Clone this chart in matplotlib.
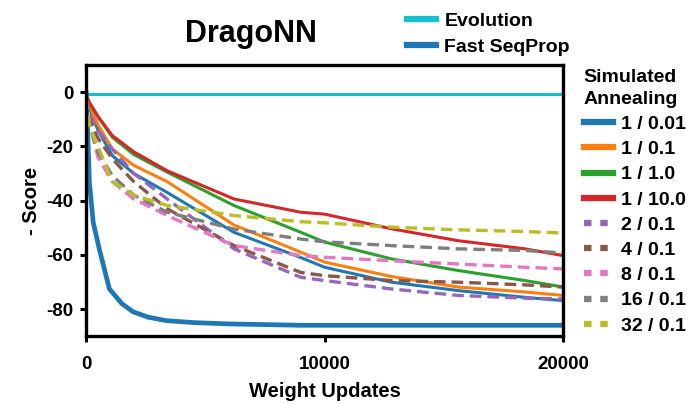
import matplotlib
matplotlib.use('Agg')
from matplotlib import pyplot as plt
from matplotlib.lines import Line2D

plt.rcParams['font.family'] = ['Liberation Sans', 'DejaVu Sans']
plt.rcParams['font.weight'] = 'bold'
plt.rcParams['axes.unicode_minus'] = False

# weight-update positions where curves were read
steps = [0, 150, 500, 1100, 2000, 3400, 6200, 9000, 10000, 12800, 15600, 18400, 20000]

# simulated annealing runs (label -> values at steps)
sa_labels = ['1 / 0.01', '1 / 0.1', '1 / 1.0', '1 / 10.0',
             '2 / 0.1', '4 / 0.1', '8 / 0.1', '16 / 0.1', '32 / 0.1']
sa_1_001 = [-1, -6, -14, -23.4, -30, -37, -51.7, -61, -64.6, -70.1, -73.2, -75.7, -76.9]
sa_1_01 = [-1, -5, -12, -21, -27, -33, -49, -59, -62.7, -68, -71.9, -73.7, -75]
sa_1_10 = [-1, -4, -9, -16.6, -23, -29.5, -41.8, -51.7, -55.3, -61.5, -65.8, -69.5, -71.9]
sa_1_100 = [-1, -4, -9, -16, -22, -29, -39.4, -44.3, -45, -50.4, -54.8, -57.8, -60.3]
sa_2_01 = [-2, -8, -14, -21, -30, -39.4, -57.8, -68.3, -69.5, -72.6, -75, -76, -76.3]
sa_4_01 = [-2, -10, -17, -24.6, -33, -43, -56.6, -66.5, -67.7, -69.5, -70.1, -71.1, -71.9]
sa_8_01 = [-2, -12, -24, -33, -39.4, -45.5, -56.6, -60.3, -60.9, -62.2, -63.4, -64.6, -65.2]
sa_16_01 = [-2, -12, -22, -30.8, -38, -44.3, -50.5, -54.2, -55.2, -56.6, -57.8, -58.4, -59.3]
sa_32_01 = [-2, -13, -20, -33, -38, -41.8, -45.5, -47.8, -48.2, -49.8, -50.8, -51.4, -52]
sa_values = [sa_1_001, sa_1_01, sa_1_10, sa_1_100, sa_2_01, sa_4_01, sa_8_01, sa_16_01, sa_32_01]
sa_colors = ['#1f77b4', '#ff7f0e', '#2ca02c', '#d62728', '#9467bd',
             '#8c564b', '#e377c2', '#7f7f7f', '#bcbd22']
sa_dashed = [False, False, False, False, True, True, True, True, True]

# evolution and fast seqprop
evo_steps = [0, 20000]
evo_values = [-0.8, -0.8]
fsp_steps = [0, 70, 140, 300, 560, 980, 1500, 1965, 2600, 3370, 4500, 6000, 9000, 12000, 15000, 20000]
fsp_values = [0, -15, -33, -48, -58, -72.6, -78, -81, -83, -84.3, -85, -85.5, -86, -86, -86, -86]

fig = plt.figure(figsize=(6.91, 4.04), dpi=100)
ax = fig.add_axes([0.1245, 0.168, 0.6905, 0.671])

ax.plot(evo_steps, evo_values, color='#17becf', lw=2.2)
ax.plot(fsp_steps, fsp_values, color='#1f77b4', lw=3.4)
for vals, col, dashed in zip(sa_values, sa_colors, sa_dashed):
    if dashed:
        ax.plot(steps, vals, color=col, lw=2.4, dashes=(3.5, 1.8))
    else:
        ax.plot(steps, vals, color=col, lw=2.2)

ax.set_xlim(0, 20000)
ax.set_ylim(-90, 10)
ax.set_xticks([0, 10000, 20000])
ax.set_yticks([0, -20, -40, -60, -80])
for s in ax.spines.values():
    s.set_linewidth(2.4)
ax.tick_params(axis='both', width=2.2, length=4, labelsize=13.5)
ax.tick_params(axis='x', pad=10)
ax.tick_params(axis='y', pad=5)
ax.set_xlabel('Weight Updates', fontsize=14.5, fontweight='bold', labelpad=7)
ax.set_ylabel('- Score', fontsize=14.5, fontweight='bold', labelpad=4)

fig.text(0.363, 0.915, 'DragoNN', fontsize=22, fontweight='bold', ha='center', va='center')

top_handles = [Line2D([], [], color='#17becf', lw=4.5),
               Line2D([], [], color='#1f77b4', lw=4.5)]
leg1 = fig.legend(top_handles, ['Evolution', 'Fast SeqProp'], loc='upper left',
                  bbox_to_anchor=(0.563, 1.012), frameon=False, fontsize=14,
                  handlelength=1.5, handletextpad=0.45, labelspacing=0.4)

sa_handles = []
for col, dashed in zip(sa_colors, sa_dashed):
    if dashed:
        sa_handles.append(Line2D([], [], color=col, lw=4.5, dashes=(1.2, 1.4)))
    else:
        sa_handles.append(Line2D([], [], color=col, lw=4.5))
leg2 = fig.legend(sa_handles, sa_labels, loc='upper left', bbox_to_anchor=(0.839, 0.838),
                  frameon=False, fontsize=14, title='Simulated\nAnnealing',
                  title_fontproperties={'size': 14, 'weight': 'bold'},
                  handlelength=1.5, handletextpad=0.4, labelspacing=0.39, borderpad=0.1,
                  borderaxespad=0.1, alignment='left')
leg2.get_title().set_linespacing(1.35)
leg2.get_title().set_horizontalalignment('left')
leg2.get_title().set_multialignment('left')

fig.savefig('out.png', dpi=100)
